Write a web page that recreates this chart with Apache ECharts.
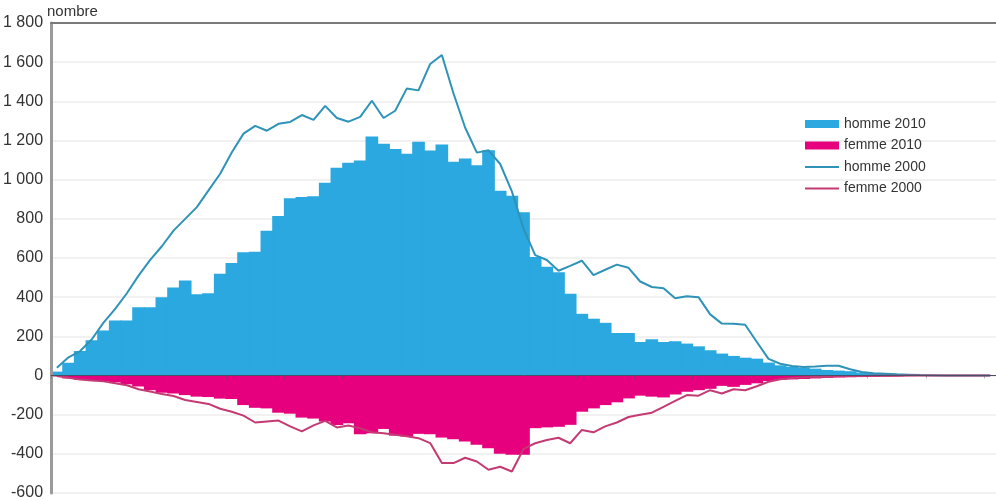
<!DOCTYPE html>
<html>
<head>
<meta charset="utf-8">
<script src="https://cdn.jsdelivr.net/npm/echarts@6/dist/echarts.min.js"></script>
<style>
html,body{margin:0;padding:0;background:#fff;}
#chart{width:996px;height:501px;}
</style>
</head>
<body>
<div id="chart"></div>
<script>
// categories (81 classes, no visible labels)
const categories = [];
for (let i = 0; i < 81; i++) categories.push(String(i));

const yTicks = { min: -600, max: 1800, interval: 200 };
const yTitle = 'nombre';

const homme2010 = [20, 65, 125, 180, 230, 281, 281, 349, 349, 400,
  450, 485, 415, 420, 520, 575, 630, 632, 739, 815,
  905, 912, 915, 984, 1061, 1086, 1098, 1221, 1184, 1157,
  1132, 1194, 1149, 1179, 1092, 1108, 1074, 1150, 943, 918,
  833, 605, 555, 527, 417, 315, 290, 269, 217, 217,
  171, 185, 171, 175, 163, 149, 129, 112, 100, 91,
  86, 66, 52, 44, 40, 35, 28, 25, 22, 15,
  12, 8, 6, 4, 3, 2, 1, 1, 1, 0, 0];

const femme2010 = [-5, -15, -22, -25, -28, -35, -45, -56, -75, -88,
  -92, -100, -108, -110, -118, -120, -151, -165, -168, -190,
  -195, -215, -220, -235, -253, -244, -300, -295, -273, -307,
  -312, -298, -300, -317, -325, -337, -354, -371, -400, -405,
  -405, -269, -265, -262, -252, -185, -168, -151, -137, -117,
  -103, -108, -112, -97, -83, -75, -68, -53, -58, -48,
  -40, -28, -22, -20, -18, -15, -12, -10, -9, -8,
  -6, -5, -4, -3, -2, -2, -1, -1, -1, -1, -1];

const homme2000 = [40, 93, 125, 185, 270, 340, 420, 510, 590, 660,
  740, 800, 860, 945, 1030, 1140, 1235, 1275, 1250, 1285,
  1295, 1330, 1305, 1377, 1315, 1296, 1321, 1403, 1315, 1352,
  1466, 1456, 1591, 1637, 1440, 1265, 1138, 1150, 1080, 940,
  750, 615, 590, 535, 560, 586, 513, 540, 566, 550,
  480, 452, 446, 395, 405, 400, 312, 265, 264, 259,
  171, 85, 60, 48, 44, 46, 50, 50, 32, 18,
  12, 9, 6, 4, 2, 1, 0, 0, 0, 0, 0];

const femme2000 = [-3, -12, -20, -25, -30, -40, -50, -70, -82, -95,
  -105, -125, -135, -145, -170, -185, -205, -240, -235, -230,
  -260, -285, -255, -232, -265, -255, -270, -290, -295, -303,
  -310, -320, -345, -447, -447, -420, -439, -481, -466, -490,
  -375, -346, -329, -318, -346, -278, -290, -260, -240, -212,
  -200, -190, -160, -130, -100, -103, -75, -92, -70, -75,
  -55, -32, -19, -13, -10, -8, -6, -4, -3, -2,
  -1, -1, -1, 0, 0, 0, 0, 0, 0, 0, 0];

const seriesNames = ['homme 2010', 'femme 2010', 'homme 2000', 'femme 2000'];
const colors = ['#2aa8df', '#e6007e', '#2f93b8', '#c43a72'];

function fmt(v) {
  const s = String(Math.abs(v)).replace(/\B(?=(\d{3})+(?!\d))/g, ' ');
  return (v < 0 ? '-' : '') + s;
}

// step bars drawn through the category/value scales, overlapping 1px to avoid seams
function stepBar(color) {
  return function (params, api) {
    const i = api.value(0);
    const v = api.value(1);
    const p0 = api.coord([i, 0]);
    const p1 = api.coord([i, v]);
    const w = api.size([1, 0])[0];
    return {
      type: 'rect',
      shape: {
        x: p0[0] - w / 2 - 0.5,
        y: Math.min(p0[1], p1[1]),
        width: w + 1,
        height: Math.abs(p1[1] - p0[1])
      },
      style: { fill: color }
    };
  };
}

const lineIcon = 'path://M0,0L34,0L34,2L0,2Z';

const chart = echarts.init(document.getElementById('chart'), null, { renderer: 'canvas' });
chart.setOption({
  animation: false,
  backgroundColor: '#ffffff',
  title: {
    text: yTitle,
    left: 47,
    top: 4,
    padding: 0,
    textStyle: { fontFamily: '"Liberation Sans", Arial, sans-serif', fontSize: 15, fontWeight: 'normal', color: '#333' }
  },
  grid: { left: 51, right: 0, top: 23, bottom: 6, containLabel: false },
  legend: {
    orient: 'vertical',
    left: 805,
    top: 116,
    padding: 0,
    itemWidth: 34,
    itemHeight: 8,
    itemGap: 5.5,
    symbolKeepAspect: true,
    textStyle: { fontFamily: '"Liberation Sans", Arial, sans-serif', fontSize: 14, color: '#333', lineHeight: 16 },
    data: [
      { name: seriesNames[0], icon: 'rect' },
      { name: seriesNames[1], icon: 'rect' },
      { name: seriesNames[2], icon: lineIcon },
      { name: seriesNames[3], icon: lineIcon }
    ]
  },
  xAxis: [
    {
      type: 'category',
      data: categories,
      position: 'bottom',
      z: 10,
      axisLine: { onZero: true, lineStyle: { color: '#4d4d66', width: 1 } },
      axisTick: { show: true, interval: 4, length: 3, lineStyle: { color: 'rgba(90,90,90,0.45)' } },
      axisLabel: { show: false },
      splitLine: { show: false }
    },
    {
      type: 'category',
      data: categories,
      position: 'top',
      z: 10,
      axisLine: { show: true, onZero: false, lineStyle: { color: '#7a7a7a', width: 2 } },
      axisTick: { show: false },
      axisLabel: { show: false },
      splitLine: { show: false }
    }
  ],
  yAxis: [
    {
      type: 'value',
      min: yTicks.min,
      max: yTicks.max,
      interval: yTicks.interval,
      axisLine: { show: false },
      axisTick: { show: false },
      axisLabel: { fontFamily: '"Liberation Sans", Arial, sans-serif', fontSize: 16, color: '#333', margin: 8, formatter: fmt },
      splitLine: { show: true, lineStyle: { color: '#ececec', width: 1.5 } }
    },
    {
      type: 'value',
      min: yTicks.min,
      max: yTicks.max,
      interval: yTicks.interval,
      position: 'left',
      z: 10,
      axisLine: { show: true, onZero: false, lineStyle: { color: '#9a9a9a', width: 3 } },
      axisTick: { show: false },
      axisLabel: { show: false },
      splitLine: { show: false }
    }
  ],
  series: [
    {
      name: seriesNames[0], type: 'custom', renderItem: stepBar(colors[0]),
      encode: { x: 0, y: 1 },
      data: homme2010.map((v, i) => [i, v]),
      itemStyle: { color: colors[0] }
    },
    {
      name: seriesNames[1], type: 'custom', renderItem: stepBar(colors[1]),
      encode: { x: 0, y: 1 },
      data: femme2010.map((v, i) => [i, v]),
      itemStyle: { color: colors[1] }
    },
    {
      name: seriesNames[2], type: 'line', data: homme2000, symbol: 'none',
      lineStyle: { color: colors[2], width: 2 }, itemStyle: { color: colors[2] }
    },
    {
      name: seriesNames[3], type: 'line', data: femme2000, symbol: 'none',
      lineStyle: { color: colors[3], width: 2 }, itemStyle: { color: colors[3] }
    }
  ]
});
</script>
</body>
</html>
